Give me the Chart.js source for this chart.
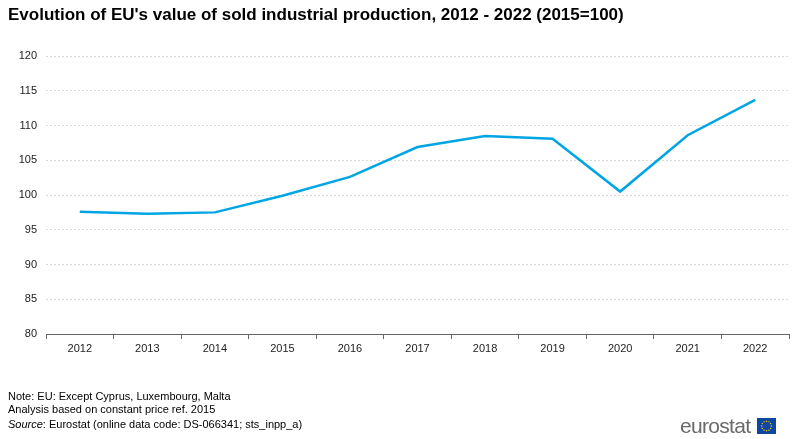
<!DOCTYPE html>
<html>
<head>
<meta charset="utf-8">
<script src="https://cdn.jsdelivr.net/npm/chart.js@4/dist/chart.umd.min.js"></script>
<style>
  html, body { margin: 0; padding: 0; background: #fff; }
  #wrap { position: relative; width: 800px; height: 439px; overflow: hidden; font-family: "Liberation Sans", Arial, sans-serif; }
  #chart { position: absolute; left: 0; top: 0; }
  .title { position: absolute; left: 8px; top: 5px; font-size: 17px; font-weight: bold; color: #000; white-space: nowrap; }
  .foot { position: absolute; left: 8px; font-size: 11px; color: #000; white-space: nowrap; }
  .logo { position: absolute; left: 680px; top: 416px; height: 20px; display: flex; align-items: center; }
  .logo span { font-size: 21px; color: #6a6a6a; letter-spacing: -0.7px; margin-right: 7px; }
</style>
</head>
<body>
<div id="wrap">
  <canvas id="chart" width="800" height="439"></canvas>
  <div class="title">Evolution of EU's value of sold industrial production, 2012 - 2022 (2015=100)</div>
  <div class="foot" style="top:390px">Note: EU: Except Cyprus, Luxembourg, Malta</div>
  <div class="foot" style="top:403px">Analysis based on constant price ref. 2015</div>
  <div class="foot" style="top:418px"><i>Source</i>: Eurostat (online data code: DS-066341; sts_inpp_a)</div>
  <div class="logo">
    <span>eurostat</span>
    <svg width="19" height="16" viewBox="0 0 19 16">
      <rect width="19" height="16" fill="#0e47a1"/>
      <g fill="#ffd200" id="stars"></g>
    </svg>
  </div>
</div>
<script>
const years = ["2012", "2013", "2014", "2015", "2016", "2017", "2018", "2019", "2020", "2021", "2022"];
const soldProduction = [97.6, 97.3, 97.5, 99.9, 102.6, 106.9, 108.5, 108.1, 100.5, 108.6, 113.7];
const yTicks = [80, 85, 90, 95, 100, 105, 110, 115, 120];

// little ring of stars on the flag
(function () {
  const g = document.getElementById("stars");
  for (let i = 0; i < 12; i++) {
    const a = (i / 12) * Math.PI * 2;
    const c = document.createElementNS("http://www.w3.org/2000/svg", "circle");
    c.setAttribute("cx", (9.5 + Math.cos(a) * 4.8).toFixed(2));
    c.setAttribute("cy", (8 + Math.sin(a) * 4.8).toFixed(2));
    c.setAttribute("r", "0.7");
    g.appendChild(c);
  }
})();

const ctx = document.getElementById("chart").getContext("2d");

new Chart(ctx, {
  type: "line",
  data: {
    labels: years,
    datasets: [
      {
        data: soldProduction,
        borderColor: "#00a5e3",
        borderWidth: 2.5,
        pointRadius: 0,
        tension: 0,
        fill: false,
      },
    ],
  },
  options: {
    responsive: false,
    animation: false,
    layout: {
      padding: { top: 56, right: 11, left: 0, bottom: 0 },
    },
    plugins: {
      legend: { display: false },
      tooltip: { enabled: false },
      title: { display: false },
    },
    scales: {
      x: {
        offset: true,
        grid: {
          offset: true,
          drawOnChartArea: false,
          drawTicks: true,
          tickLength: 5,
          color: "#666",
        },
        border: { display: true, color: "#666", width: 1 },
        ticks: {
          color: "#222",
          font: { family: "Liberation Sans", size: 11 },
          padding: 3,
          maxRotation: 0,
        },
        afterFit: function (scale) {
          scale.height = 105;
        },
      },
      y: {
        min: 80,
        max: 120,
        afterBuildTicks: function (scale) {
          scale.ticks = yTicks.map(function (v) { return { value: v }; });
        },
        grid: {
          color: "#d9d9d9",
          drawTicks: false,
        },
        border: { display: false, dash: [2, 2] },
        ticks: {
          color: "#222",
          font: { family: "Liberation Sans", size: 11 },
          padding: 9,
        },
        afterFit: function (scale) {
          scale.width = 46;
        },
      },
    },
  },
});
</script>
</body>
</html>
